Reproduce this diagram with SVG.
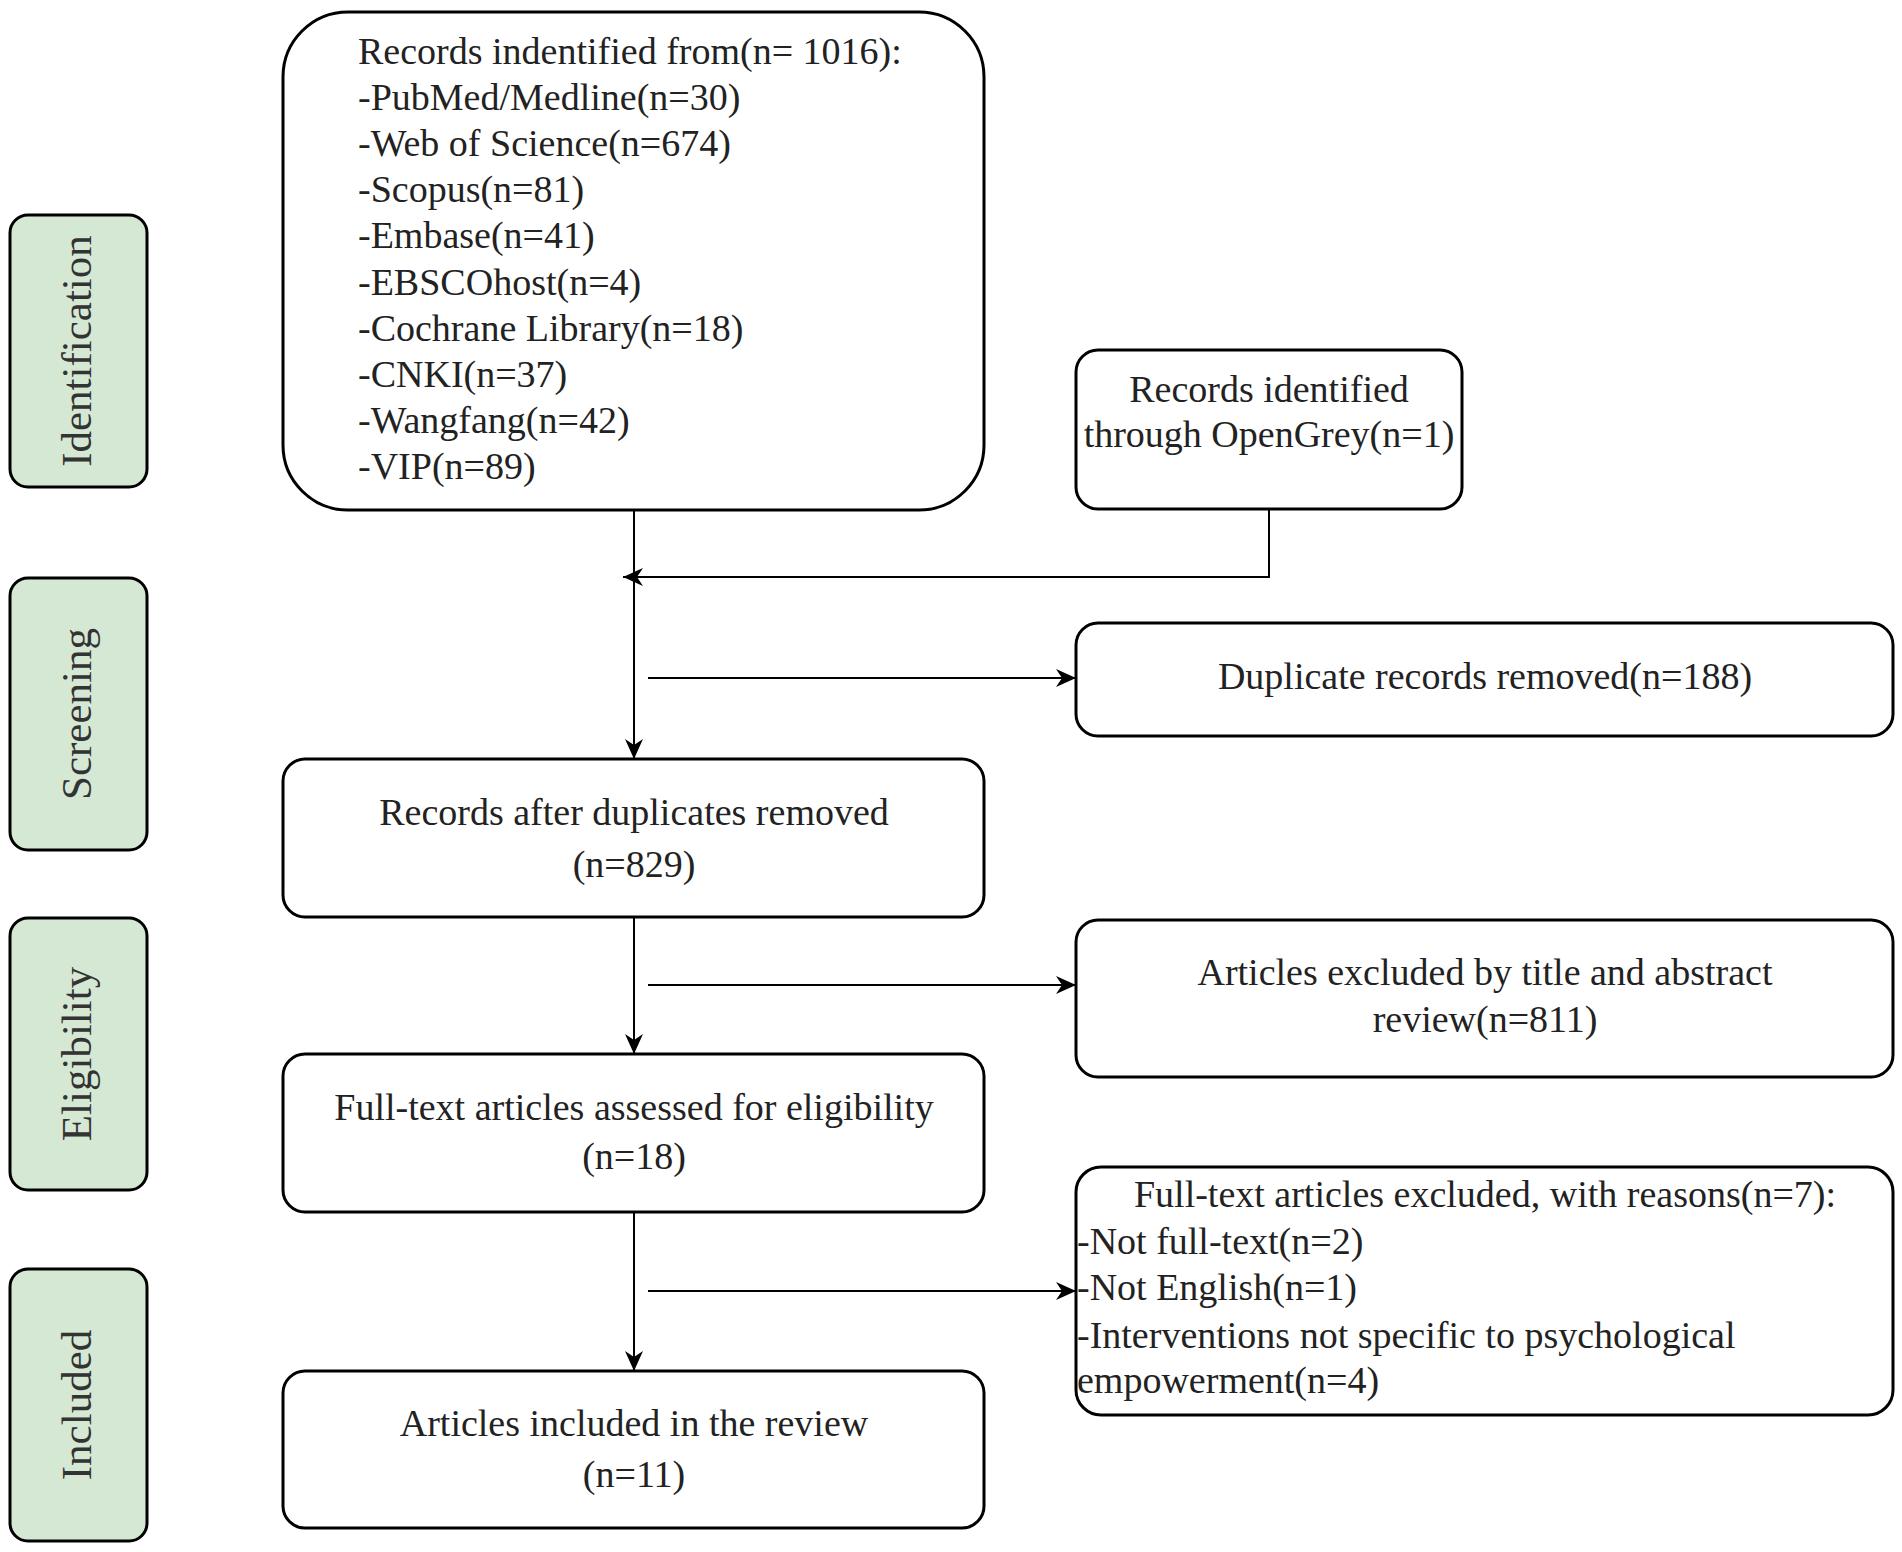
<svg xmlns="http://www.w3.org/2000/svg" width="1902" height="1552" viewBox="0 0 1902 1552">
<style>
.box{fill:#fff;stroke:#000;stroke-width:3}
.phase{fill:#d5e8d4;stroke:#000;stroke-width:3}
.t{font-family:"Liberation Serif","Times New Roman",serif;font-size:38px;fill:#222}
.c{text-anchor:middle}
.pt{font-family:"Liberation Serif","Times New Roman",serif;font-size:43px;fill:#333;text-anchor:middle}
.con{fill:none;stroke:#000;stroke-width:2}
</style>
<defs>
<marker id="arr" markerUnits="userSpaceOnUse" viewBox="-20 -10 20 20" markerWidth="20" markerHeight="20" refX="0" refY="0" orient="auto">
<path d="M0,0 L-20,-9 L-14,0 L-20,9 Z" fill="#000"/>
</marker>
</defs>
<rect width="1902" height="1552" fill="#fff"/>
<g id="phase-identification">
<rect class="phase" x="10" y="215" width="137" height="272" rx="18"/>
<text class="pt" transform="translate(91,351) rotate(-90)">Identification</text>
</g>
<g id="phase-screening">
<rect class="phase" x="10" y="578" width="137" height="272" rx="18"/>
<text class="pt" transform="translate(91,714) rotate(-90)">Screening</text>
</g>
<g id="phase-eligibility">
<rect class="phase" x="10" y="918" width="137" height="272" rx="18"/>
<text class="pt" transform="translate(91,1054) rotate(-90)">Eligibility</text>
</g>
<g id="phase-included">
<rect class="phase" x="10" y="1269" width="137" height="272" rx="18"/>
<text class="pt" transform="translate(91,1405) rotate(-90)">Included</text>
</g>
<g id="connectors">
<line class="con" x1="634" y1="510" x2="634" y2="759" marker-end="url(#arr)"/>
<polyline class="con" points="1269,509 1269,577 623,577" marker-end="url(#arr)"/>
<line class="con" x1="648" y1="678" x2="1076" y2="678" marker-end="url(#arr)"/>
<line class="con" x1="634" y1="917" x2="634" y2="1054" marker-end="url(#arr)"/>
<line class="con" x1="648" y1="985" x2="1076" y2="985" marker-end="url(#arr)"/>
<line class="con" x1="634" y1="1212" x2="634" y2="1371" marker-end="url(#arr)"/>
<line class="con" x1="648" y1="1291" x2="1076" y2="1291" marker-end="url(#arr)"/>
</g>
<g id="records-identified">
<rect class="box" x="283" y="12" width="701" height="498" rx="65"/>
<text class="t" x="358">
<tspan x="358" y="64">Records indentified from(n= 1016):</tspan>
<tspan x="358" y="110">-PubMed/Medline(n=30)</tspan>
<tspan x="358" y="156">-Web of Science(n=674)</tspan>
<tspan x="358" y="202">-Scopus(n=81)</tspan>
<tspan x="358" y="248">-Embase(n=41)</tspan>
<tspan x="358" y="295">-EBSCOhost(n=4)</tspan>
<tspan x="358" y="341">-Cochrane Library(n=18)</tspan>
<tspan x="358" y="387">-CNKI(n=37)</tspan>
<tspan x="358" y="433">-Wangfang(n=42)</tspan>
<tspan x="358" y="479">-VIP(n=89)</tspan>
</text>
</g>
<g id="opengrey">
<rect class="box" x="1076" y="350" width="386" height="159" rx="22"/>
<text class="t c"><tspan x="1269" y="402">Records identified</tspan><tspan x="1269" y="447">through OpenGrey(n=1)</tspan></text>
</g>
<g id="duplicates-removed">
<rect class="box" x="1076" y="623" width="817" height="113" rx="22"/>
<text class="t c" x="1485" y="689">Duplicate records removed(n=188)</text>
</g>
<g id="records-after">
<rect class="box" x="283" y="759" width="701" height="158" rx="22"/>
<text class="t c"><tspan x="634" y="825">Records after duplicates removed</tspan><tspan x="634" y="877">(n=829)</tspan></text>
</g>
<g id="excluded-title-abstract">
<rect class="box" x="1076" y="920" width="817" height="157" rx="22"/>
<text class="t c"><tspan x="1485" y="985">Articles excluded by title and abstract</tspan><tspan x="1485" y="1032">review(n=811)</tspan></text>
</g>
<g id="fulltext-assessed">
<rect class="box" x="283" y="1054" width="701" height="158" rx="22"/>
<text class="t c"><tspan x="634" y="1120">Full-text articles assessed for eligibility</tspan><tspan x="634" y="1169">(n=18)</tspan></text>
</g>
<g id="fulltext-excluded">
<rect class="box" x="1076" y="1167" width="817" height="248" rx="25"/>
<text class="t c" x="1485" y="1207">Full-text articles excluded, with reasons(n=7):</text>
<text class="t">
<tspan x="1077" y="1254">-Not full-text(n=2)</tspan>
<tspan x="1077" y="1300">-Not English(n=1)</tspan>
<tspan x="1077" y="1348">-Interventions not specific to psychological</tspan>
<tspan x="1077" y="1393">empowerment(n=4)</tspan>
</text>
</g>
<g id="included-review">
<rect class="box" x="283" y="1371" width="701" height="157" rx="22"/>
<text class="t c"><tspan x="634" y="1436">Articles included in the review</tspan><tspan x="634" y="1487">(n=11)</tspan></text>
</g>
</svg>
